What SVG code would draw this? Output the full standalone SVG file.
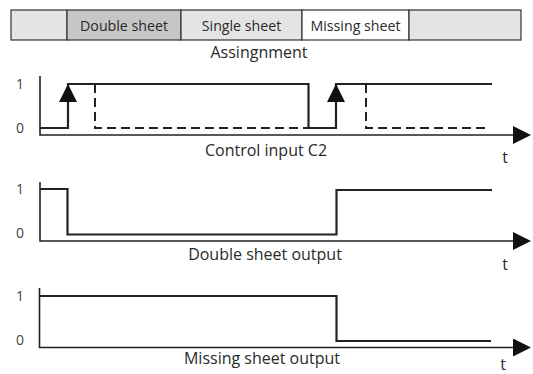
<svg xmlns="http://www.w3.org/2000/svg" width="533" height="374" viewBox="0 0 533 374">
<style>
text{font-family:"Open Sans","DejaVu Sans",sans-serif;fill:#2a2a2a}
.cell{stroke:#333;stroke-width:1.2}
.lbl{font-size:14.2px;text-anchor:middle}
.cap{font-size:16px;text-anchor:middle}
.lvl{font-size:14px;text-anchor:middle;fill:#444}
.axis{fill:none;stroke:#222;stroke-width:1.6}
.sig{fill:none;stroke:#222;stroke-width:2.2;stroke-linejoin:miter}
.dash{fill:none;stroke:#222;stroke-width:2;stroke-dasharray:9 5}
.ah{fill:#111}
</style>
<defs>
<marker id="arr" viewBox="0 0 18 18" refX="0" refY="9" markerWidth="18" markerHeight="18" markerUnits="userSpaceOnUse" orient="auto"><path d="M0,0 L18,9 L0,18 Z" fill="#111"/></marker>
</defs>
<g id="assignment-bar">
<rect class="cell" x="11" y="10" width="56" height="30" fill="#e4e4e4"/>
<rect class="cell" x="67" y="10" width="114" height="30" fill="#c6c6c6"/>
<rect class="cell" x="181" y="10" width="121" height="30" fill="#e4e4e4"/>
<rect class="cell" x="302" y="10" width="107" height="30" fill="#ffffff"/>
<rect class="cell" x="409" y="10" width="112" height="30" fill="#e4e4e4"/>
<text class="lbl" x="124" y="31">Double sheet</text>
<text class="lbl" x="241.5" y="31">Single sheet</text>
<text class="lbl" x="355.5" y="31">Missing sheet</text>
<text class="cap" x="259" y="58">Assingnment</text>
</g>
<g id="control-input">
<text class="lvl" x="20" y="89">1</text>
<text class="lvl" x="20" y="133">0</text>
<path class="axis" d="M40,76 V135 H513" marker-end="url(#arr)"/>
<path class="sig" d="M40,128 H68 V84 H308.5 V128 H336 V84 H492"/>
<path class="dash" d="M95,84 V128 H308"/>
<path class="dash" d="M366,84 V128 H490"/>
<path class="ah" d="M68,84 L59,102 L77,102 Z"/>
<path class="ah" d="M336,84 L327,102 L345,102 Z"/>
<text class="cap" x="266" y="156">Control input C2</text>
<text class="cap" x="505" y="163">t</text>
</g>
<g id="double-sheet-output">
<text class="lvl" x="20" y="194">1</text>
<text class="lvl" x="20" y="238">0</text>
<path class="axis" d="M40,182 V241 H513" marker-end="url(#arr)"/>
<path class="sig" d="M40,189 H67.5 V234.5 H336.5 V190 H492"/>
<text class="cap" x="265" y="260">Double sheet output</text>
<text class="cap" x="505" y="270">t</text>
</g>
<g id="missing-sheet-output">
<text class="lvl" x="20" y="301">1</text>
<text class="lvl" x="20" y="345">0</text>
<path class="axis" d="M39.5,288 V347.5 H513" marker-end="url(#arr)"/>
<path class="sig" d="M40,296 H336.5 V341 H491"/>
<text class="cap" x="262" y="364">Missing sheet output</text>
<text class="cap" x="503" y="370">t</text>
</g>
</svg>
